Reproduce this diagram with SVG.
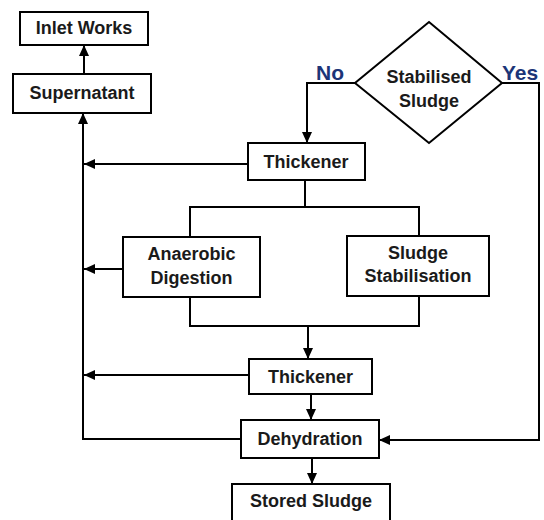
<svg xmlns="http://www.w3.org/2000/svg" width="544" height="520" viewBox="0 0 544 520">
<style>
.box{fill:#fff;stroke:#000;stroke-width:2}
.t{font-family:"Liberation Sans",Arial,sans-serif;font-weight:bold;font-size:18px;fill:#1a1a1a;text-anchor:middle}
.lbl{font-family:"Liberation Sans",Arial,sans-serif;font-weight:bold;font-size:21px;fill:#1c3578}
.c{fill:none;stroke:#000;stroke-width:2}
</style>
<defs>
<marker id="ah" markerUnits="userSpaceOnUse" markerWidth="12" markerHeight="12" viewBox="0 0 12 12" refX="11" refY="6" orient="auto">
<path d="M0,1 L11,6 L0,11 Z" fill="#000"/>
</marker>
</defs>
<rect width="544" height="520" fill="#fff"/>
<g id="connectors">
<path class="c" d="M84,74 V45" marker-end="url(#ah)"/>
<path class="c" d="M241,439 H83 V113" marker-end="url(#ah)"/>
<path class="c" d="M248,164 H84" marker-end="url(#ah)"/>
<path class="c" d="M123,269 H84" marker-end="url(#ah)"/>
<path class="c" d="M249,375 H84" marker-end="url(#ah)"/>
<path class="c" d="M355,83 H307 V143" marker-end="url(#ah)"/>
<path class="c" d="M502,83 H539 V440 H379" marker-end="url(#ah)"/>
<path class="c" d="M305,180 V207"/>
<path class="c" d="M190,237 V207 H419 V236"/>
<path class="c" d="M190,297 V326 H419 V296"/>
<path class="c" d="M308,326 V359" marker-end="url(#ah)"/>
<path class="c" d="M311,394 V420" marker-end="url(#ah)"/>
<path class="c" d="M312,458 V484" marker-end="url(#ah)"/>
<text class="lbl" x="316" y="80">No</text>
<text class="lbl" x="502" y="80">Yes</text>
</g>
<g id="inlet-works">
<rect class="box" x="20" y="12" width="128" height="33"/>
<text class="t" x="84" y="34">Inlet Works</text>
</g>
<g id="supernatant">
<rect class="box" x="13" y="74" width="138" height="39"/>
<text class="t" x="82" y="99">Supernatant</text>
</g>
<g id="stabilised-sludge">
<polygon class="box" points="429,22 502,83 429,143 355,83"/>
<text class="t" x="429" y="83">Stabilised</text>
<text class="t" x="429" y="107">Sludge</text>
</g>
<g id="thickener-1">
<rect class="box" x="248" y="143" width="117" height="37"/>
<text class="t" x="306" y="168">Thickener</text>
</g>
<g id="anaerobic-digestion">
<rect class="box" x="123" y="237" width="137" height="60"/>
<text class="t" x="191.5" y="260">Anaerobic</text>
<text class="t" x="191.5" y="284">Digestion</text>
</g>
<g id="sludge-stabilisation">
<rect class="box" x="347" y="236" width="142" height="60"/>
<text class="t" x="418" y="259">Sludge</text>
<text class="t" x="418" y="282">Stabilisation</text>
</g>
<g id="thickener-2">
<rect class="box" x="249" y="359" width="123" height="35"/>
<text class="t" x="310.5" y="383">Thickener</text>
</g>
<g id="dehydration">
<rect class="box" x="241" y="420" width="138" height="38"/>
<text class="t" x="310" y="445">Dehydration</text>
</g>
<g id="stored-sludge">
<rect class="box" x="232" y="484" width="158" height="40"/>
<text class="t" x="311" y="507">Stored Sludge</text>
</g>
</svg>
